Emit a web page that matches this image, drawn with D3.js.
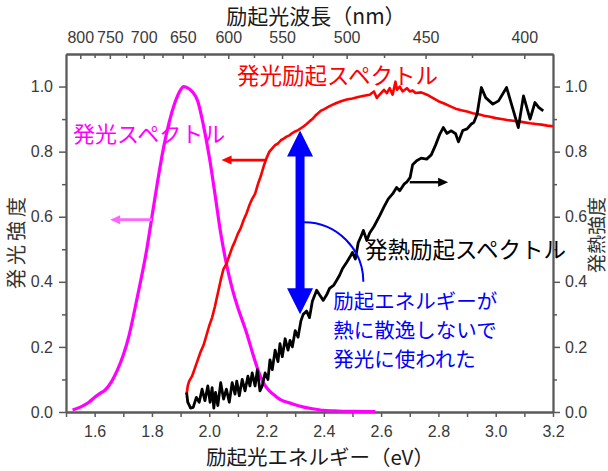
<!DOCTYPE html>
<html><head><meta charset="utf-8">
<script src="https://cdn.jsdelivr.net/npm/d3@7"></script>
<style>body{margin:0;background:#fff} svg{display:block}</style>
</head><body><svg id="c" width="608" height="471"></svg>
<script>
// ---------- data (eV, normalised intensity) ----------
const emission = [[1.523,0.006],[1.55,0.015],[1.58,0.03],[1.60,0.045],[1.62,0.058],[1.636,0.067],[1.66,0.095],[1.68,0.13],[1.70,0.175],[1.72,0.235],[1.74,0.315],[1.76,0.40],[1.78,0.49],[1.80,0.60],[1.82,0.71],[1.84,0.81],[1.86,0.89],[1.88,0.95],[1.90,0.99],[1.91,1.0],[1.92,0.998],[1.94,0.985],[1.96,0.955],[1.98,0.88],[2.00,0.785],[2.02,0.67],[2.04,0.55],[2.06,0.455],[2.08,0.38],[2.10,0.32],[2.12,0.27],[2.131,0.241],[2.15,0.185],[2.17,0.13],[2.19,0.088],[2.21,0.065],[2.23,0.05],[2.25,0.037],[2.28,0.028],[2.30,0.022],[2.33,0.015],[2.36,0.01],[2.40,0.005],[2.45,0.003],[2.50,0.002],[2.58,0.001]];
const excitation = [[1.921,0.055],[1.925,0.08],[1.93,0.095],[1.94,0.11],[1.95,0.135],[1.96,0.16],[1.97,0.185],[1.98,0.205],[1.99,0.235],[2.0,0.265],[2.01,0.29],[2.02,0.325],[2.03,0.365],[2.04,0.405],[2.05,0.44],[2.06,0.455],[2.07,0.48],[2.08,0.505],[2.09,0.525],[2.1,0.548],[2.11,0.565],[2.12,0.59],[2.13,0.61],[2.14,0.635],[2.15,0.655],[2.16,0.67],[2.17,0.70],[2.18,0.725],[2.19,0.755],[2.2,0.78],[2.21,0.80],[2.22,0.81],[2.23,0.82],[2.24,0.825],[2.25,0.835],[2.26,0.84],[2.27,0.846],[2.28,0.85],[2.29,0.857],[2.3,0.862],[2.31,0.866],[2.32,0.872],[2.33,0.878],[2.34,0.885],[2.35,0.893],[2.36,0.9],[2.37,0.91],[2.38,0.918],[2.39,0.926],[2.40,0.93],[2.42,0.94],[2.44,0.948],[2.46,0.955],[2.48,0.96],[2.5,0.963],[2.52,0.968],[2.54,0.972],[2.56,0.975],[2.575,0.985],[2.585,0.965],[2.595,0.975],[2.61,0.99],[2.62,0.98],[2.63,0.995],[2.64,0.975],[2.65,1.015],[2.655,0.99],[2.665,1.0],[2.675,0.985],[2.69,0.995],[2.70,0.985],[2.71,0.988],[2.72,0.98],[2.74,0.982],[2.76,0.975],[2.78,0.965],[2.80,0.955],[2.82,0.948],[2.84,0.94],[2.86,0.932],[2.88,0.927],[2.9,0.923],[2.92,0.918],[2.94,0.915],[2.96,0.91],[2.98,0.907],[3.0,0.903],[3.02,0.9],[3.04,0.897],[3.06,0.895],[3.08,0.893],[3.1,0.89],[3.12,0.887],[3.14,0.885],[3.16,0.883],[3.18,0.88],[3.2,0.878]];
const heat = [[1.921,0.06],[1.925,0.03],[1.935,0.012],[1.944,0.014],[1.955,0.045],[1.965,0.03],[1.975,0.07],[1.985,0.035],[1.995,0.08],[2.003,0.03],[2.01,0.075],[2.016,0.012],[2.022,0.06],[2.03,0.02],[2.04,0.09],[2.05,0.04],[2.06,0.07],[2.07,0.03],[2.08,0.09],[2.09,0.055],[2.096,0.095],[2.105,0.05],[2.115,0.1],[2.125,0.065],[2.135,0.11],[2.142,0.08],[2.15,0.12],[2.16,0.08],[2.168,0.13],[2.177,0.065],[2.185,0.08],[2.195,0.12],[2.205,0.1],[2.212,0.16],[2.22,0.13],[2.23,0.19],[2.24,0.155],[2.247,0.21],[2.255,0.17],[2.265,0.225],[2.275,0.19],[2.282,0.22],[2.29,0.2],[2.3,0.25],[2.31,0.23],[2.32,0.28],[2.328,0.30],[2.34,0.31],[2.35,0.29],[2.36,0.34],[2.375,0.374],[2.385,0.36],[2.398,0.343],[2.41,0.36],[2.42,0.38],[2.435,0.39],[2.445,0.405],[2.455,0.42],[2.465,0.44],[2.48,0.46],[2.491,0.476],[2.5,0.49],[2.51,0.47],[2.52,0.52],[2.53,0.54],[2.538,0.558],[2.55,0.527],[2.56,0.55],[2.575,0.57],[2.596,0.605],[2.61,0.63],[2.625,0.655],[2.64,0.67],[2.654,0.69],[2.665,0.68],[2.68,0.7],[2.689,0.706],[2.701,0.72],[2.71,0.76],[2.724,0.772],[2.74,0.78],[2.759,0.777],[2.775,0.79],[2.79,0.82],[2.805,0.854],[2.817,0.874],[2.83,0.856],[2.845,0.864],[2.86,0.855],[2.87,0.83],[2.885,0.865],[2.9,0.87],[2.915,0.885],[2.924,0.89],[2.935,0.915],[2.95,0.997],[2.965,0.966],[2.99,0.946],[3.01,0.956],[3.038,0.997],[3.079,0.874],[3.097,0.971],[3.12,0.9],[3.137,0.951],[3.15,0.936],[3.166,0.925]];

const xMajor = [1.6,1.8,2.0,2.2,2.4,2.6,2.8,3.0,3.2];
const xMinor = [1.5,1.7,1.9,2.1,2.3,2.5,2.7,2.9,3.1];
const yMajor = [0,0.2,0.4,0.6,0.8,1.0];
const yMinor = [0.1,0.3,0.5,0.7,0.9];
const waveMajor = [800,750,700,650,600,550,500,450,400];
const waveMinor = [775,725,675,625,575,525,475,425];
const HC = 1239.84;

const texts = {
  xTitle: "励起光エネルギー（eV）",
  topTitle: "励起光波長（nm）",
  yLeft: "発光強度",
  yRight: "発熱強度",
  emission: "発光スペクトル",
  excitation: "発光励起スペクトル",
  heat: "発熱励起スペクトル",
  note: ["励起エネルギーが","熱に散逸しないで","発光に使われた"]
};

// ---------- layout ----------
const svg = d3.select("#c");
const x = d3.scaleLinear([1.5,3.2],[66,553]);
const y = d3.scaleLinear([0,1.1],[412,54]);
const CJK = "'Noto Sans CJK JP','Noto Sans',sans-serif";
const NUM = "'Liberation Sans',Arial,sans-serif";
const axisColor = "#5a5a5a";

function styleAxis(g){
  g.selectAll("path.domain").attr("stroke",axisColor).attr("stroke-width",1.8);
  g.selectAll(".tick line").attr("stroke",axisColor).attr("stroke-width",1.5);
  g.selectAll(".tick text").attr("fill","#3a3a3a").style("font-family",NUM).style("font-size","16px");
}
const fmt = d3.format(".1f");
// bottom
svg.append("g").attr("transform","translate(0,412)")
  .call(d3.axisBottom(x).tickValues(xMinor).tickSize(5).tickSizeOuter(0).tickFormat(""))
  .call(styleAxis);
svg.append("g").attr("transform","translate(0,412)")
  .call(d3.axisBottom(x).tickValues(xMajor).tickSize(5).tickSizeOuter(0).tickPadding(9).tickFormat(fmt))
  .call(styleAxis);
// left
svg.append("g").attr("transform","translate(66,0)")
  .call(d3.axisLeft(y).tickValues(yMinor).tickSize(4).tickSizeOuter(0).tickFormat(""))
  .call(styleAxis);
svg.append("g").attr("transform","translate(66,0)")
  .call(d3.axisLeft(y).tickValues(yMajor).tickSize(7).tickSizeOuter(0).tickPadding(6).tickFormat(fmt))
  .call(styleAxis);
// right
svg.append("g").attr("transform","translate(553,0)")
  .call(d3.axisRight(y).tickValues(yMinor).tickSize(4).tickSizeOuter(0).tickFormat(""))
  .call(styleAxis);
svg.append("g").attr("transform","translate(553,0)")
  .call(d3.axisRight(y).tickValues(yMajor).tickSize(7).tickSizeOuter(0).tickPadding(5).tickFormat(fmt))
  .call(styleAxis);
// top (wavelength)
svg.append("g").attr("transform","translate(0,54)")
  .call(d3.axisTop(x).tickValues(waveMinor.map(w=>HC/w)).tickSize(-4).tickSizeOuter(0).tickFormat(""))
  .call(styleAxis);
svg.append("g").attr("transform","translate(0,54)")
  .call(d3.axisTop(x).tickValues(waveMajor.map(w=>HC/w)).tickSize(-5).tickSizeOuter(0).tickPadding(11).tickFormat(e=>String(Math.round(HC/e))))
  .call(styleAxis);

// axis titles
svg.append("text").attr("x",320).attr("y",456).attr("text-anchor","middle").attr("dominant-baseline","central")
  .style("font-family",CJK).style("font-size","20.5px").attr("fill","#1a1a1a").text(texts.xTitle);
svg.append("text").attr("x",316).attr("y",15).attr("text-anchor","middle").attr("dominant-baseline","central")
  .style("font-family",CJK).style("font-size","21px").attr("fill","#1a1a1a").text(texts.topTitle);
svg.append("text").attr("transform","translate(15,241) rotate(-90)").attr("text-anchor","middle").attr("dominant-baseline","central")
  .style("font-family",CJK).style("font-size","20px").style("letter-spacing","4px").attr("fill","#333").text(texts.yLeft);
svg.append("text").attr("transform","translate(595,235) rotate(-90)").attr("text-anchor","middle").attr("dominant-baseline","central")
  .style("font-family",CJK).style("font-size","19px").attr("fill","#333").text(texts.yRight);

// ---------- curves ----------
const line = d3.line().x(d=>x(d[0])).y(d=>y(d[1]));
svg.append("path").datum(emission).attr("d",line.curve(d3.curveMonotoneX)).attr("fill","none")
  .attr("stroke","#ff00ff").attr("stroke-width",3.2).attr("stroke-linejoin","round");
svg.append("path").datum(excitation).attr("d",d3.line().x(d=>x(d[0])).y(d=>y(d[1]))).attr("fill","none")
  .attr("stroke","#ff0000").attr("stroke-width",2.6).attr("stroke-linejoin","round");
svg.append("path").datum(heat).attr("d",d3.line().x(d=>x(d[0])).y(d=>y(d[1]))).attr("fill","none")
  .attr("stroke","#000").attr("stroke-width",2.8).attr("stroke-linejoin","round");

// ---------- annotations ----------
function arrow(e1,v1,e2,v2,color,w){
  const x1=x(e1),y1=y(v1),x2=x(e2),y2=y(v2);
  const dx=x2-x1, dy=y2-y1, L=Math.hypot(dx,dy), ux=dx/L, uy=dy/L;
  const hl=10, hw=4.5;
  const bx=x2-ux*hl, by=y2-uy*hl;
  svg.append("line").attr("x1",x1).attr("y1",y1).attr("x2",bx+ux*1).attr("y2",by+uy*1)
    .attr("stroke",color).attr("stroke-width",w);
  svg.append("path").attr("d",`M${x2},${y2}L${bx-uy*hw},${by+ux*hw}L${bx+uy*hw},${by-ux*hw}Z`).attr("fill",color);
}
arrow(1.80,0.591,1.654,0.591,"#ff66ff",2.6);
arrow(2.195,0.774,2.043,0.774,"#ff0000",2.6);
arrow(2.70,0.706,2.834,0.706,"#000000",2.4);

// blue double arrow
{
  const xc=x(2.317), yt=y(0.865), yb=y(0.30), sw=4.5, hw=13, hl=26;
  const p=`M${xc},${yt}L${xc+hw},${yt+hl}L${xc+sw},${yt+hl}L${xc+sw},${yb-hl}L${xc+hw},${yb-hl}L${xc},${yb}L${xc-hw},${yb-hl}L${xc-sw},${yb-hl}L${xc-sw},${yt+hl}L${xc-hw},${yt+hl}Z`;
  svg.append("path").attr("d",p).attr("fill","#0000ff");
  const x0=x(2.331), y0=y(0.583), x1=x(2.538), y1=y(0.40);
  svg.append("path").attr("d",`M${x0},${y0}C${x0+0.55*(x1-x0)},${y0} ${x1},${y1-0.55*(y1-y0)} ${x1},${y1}`)
    .attr("fill","none").attr("stroke","#0000ff").attr("stroke-width",2);
}

function label(e,v,t,color,size){
  svg.append("text").attr("x",x(e)).attr("y",y(v)).attr("dominant-baseline","central")
    .style("font-family",CJK).style("font-size",size+"px").attr("fill",color).text(t);
}
label(1.524,0.859,texts.emission,"#ff00ff",22);
label(2.097,1.039,texts.excitation,"#ff0000",22.5);
label(2.544,0.503,texts.heat,"#000000",22.5);
[0.345,0.256,0.167].forEach((v,i)=>label(2.433,v,texts.note[i],"#0000ff",20.5));
</script></body></html>
